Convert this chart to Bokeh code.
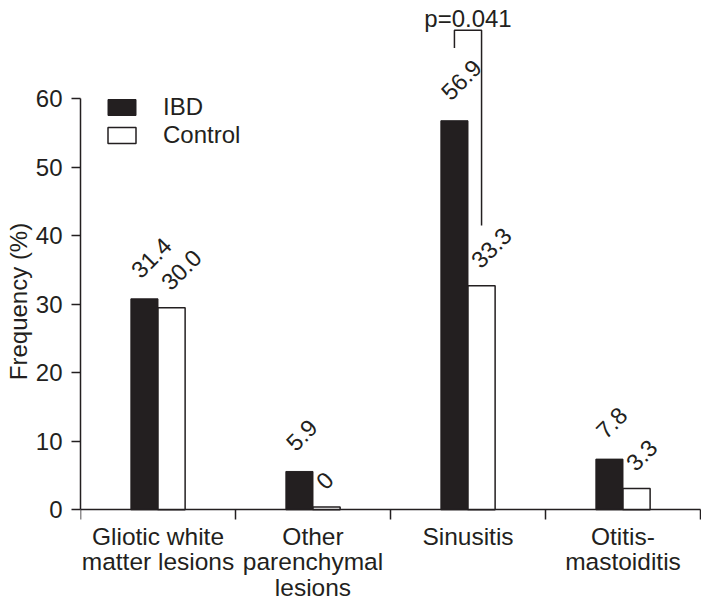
import numpy as np
from bokeh.plotting import figure
from bokeh.models import Range1d, FixedTicker, Legend, LegendItem
from bokeh.core.properties import value
from bokeh.embed import file_html
from bokeh.resources import INLINE

# ---- data ----
categories = ["Gliotic white\nmatter lesions", "Other\nparenchymal\nlesions", "Sinusitis", "Otitis-\nmastoiditis"]
ibd_values = [30.8, 5.6, 56.8, 7.4]
control_values = [29.5, 0.4, 32.7, 3.1]
ibd_labels = ["31.4", "5.9", "56.9", "7.8"]
control_labels = ["30.0", "0", "33.3", "3.3"]
y_ticks = [0, 10, 20, 30, 40, 50, 60]
p_text = "p=0.041"
p_category = 2
bracket_y = [67.4, 70.0, 41.5]

INK = "#231f20"
FONT = "Liberation Sans"
bar_w = 0.175
Y_TOP = 74.35
Y_BOTTOM = -13.53

idx = np.arange(len(categories))
ibd_x = idx + 0.5 - bar_w / 2
ctl_x = idx + 0.5 + bar_w / 2

p = figure(width=701, height=602, x_range=Range1d(0, 4.0065), y_range=Range1d(Y_BOTTOM, Y_TOP),
           output_backend="svg", toolbar_location=None,
           min_border_left=80, min_border_right=0, min_border_top=0, min_border_bottom=0)
p.outline_line_color = None
p.xgrid.grid_line_color = None
p.ygrid.grid_line_color = None
p.background_fill_color = "white"

r_ibd = p.vbar(x=ibd_x, top=ibd_values, width=bar_w, bottom=0,
               fill_color=INK, line_color=INK, line_width=1)
r_ctl = p.vbar(x=ctl_x, top=control_values, width=bar_w, bottom=0,
               fill_color="white", line_color=INK, line_width=1.5)

# value labels
p.text(x=ibd_x - bar_w / 2, y=ibd_values, text=ibd_labels, angle=np.pi / 4,
       text_align="left", text_baseline="alphabetic", x_offset=4, y_offset=-25,
       text_font=value(FONT), text_font_size="23.5px", text_color=INK)
p.text(x=ctl_x - bar_w / 2, y=control_values, text=control_labels, angle=np.pi / 4,
       text_align="left", text_baseline="alphabetic", x_offset=7, y_offset=-22,
       text_font=value(FONT), text_font_size="23.5px", text_color=INK)

# significance bracket
bx = [ibd_x[p_category], ibd_x[p_category], ctl_x[p_category], ctl_x[p_category]]
by = [bracket_y[0], bracket_y[1], bracket_y[1], bracket_y[2]]
p.line(x=bx, y=by, line_color=INK, line_width=1.5)
p.text(x=[p_category + 0.5], y=[Y_TOP], text=[p_text], text_align="center",
       text_baseline="alphabetic", y_offset=18,
       text_font=value(FONT), text_font_size="24px", text_color=INK)

# axes
yax = p.yaxis[0]
yax.ticker = FixedTicker(ticks=y_ticks)
yax.bounds = (0, 60)
yax.axis_label = "Frequency (%)"
yax.axis_label_text_font = FONT
yax.axis_label_text_font_size = "24px"
yax.axis_label_text_font_style = "normal"
yax.axis_label_text_color = INK
yax.axis_label_text_line_height = 1.0
yax.axis_label_standoff = 1
yax.major_label_text_font = FONT
yax.major_label_text_font_size = "24px"
yax.major_label_text_color = INK
yax.major_label_standoff = 9
yax.major_tick_out = 9
yax.major_tick_in = 0
yax.minor_tick_out = 0
yax.minor_tick_in = 0
yax.axis_line_color = INK
yax.axis_line_width = 1.5
yax.major_tick_line_color = INK
yax.major_tick_line_width = 1.5

xax = p.xaxis[0]
xax.fixed_location = 0
xax.ticker = FixedTicker(ticks=list(idx + 0.5), minor_ticks=list(range(len(categories) + 1)))
xax.major_label_overrides = {float(i + 0.5): c for i, c in enumerate(categories)}
xax.bounds = (0, 4)
xax.major_label_text_font = FONT
xax.major_label_text_font_size = "24.5px"
xax.major_label_text_color = INK
xax.major_label_text_line_height = 0.95
xax.major_label_standoff = 3
xax.major_tick_out = 0
xax.major_tick_in = 0
xax.minor_tick_out = 10
xax.minor_tick_in = 0
xax.minor_tick_line_color = INK
xax.minor_tick_line_width = 1.5
xax.axis_line_color = INK
xax.axis_line_width = 1.5

legend = Legend(items=[LegendItem(label="IBD", renderers=[r_ibd]),
                       LegendItem(label="Control", renderers=[r_ctl])],
                location=(24, 453), orientation="vertical")
legend.glyph_width = 35
legend.glyph_height = 20
legend.label_height = 20
legend.spacing = 0
legend.padding = 0
legend.margin = 0
legend.label_standoff = 24
legend.border_line_color = None
legend.background_fill_alpha = 0
legend.label_text_font = FONT
legend.label_text_font_size = "24px"
legend.label_text_color = INK
p.add_layout(legend, "center")

open("out.html", "w").write(file_html(p, INLINE))
